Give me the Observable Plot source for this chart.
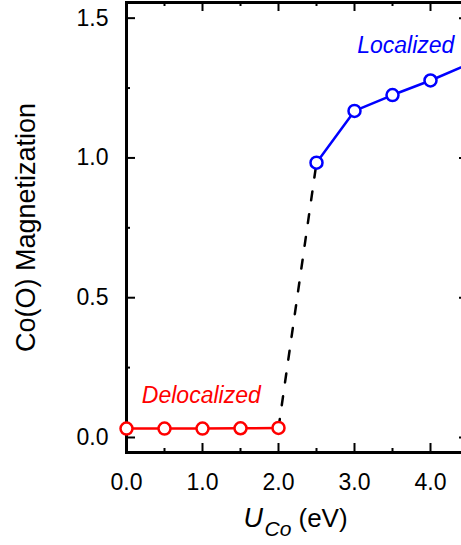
<!DOCTYPE html>
<html><head><meta charset="utf-8">
<script src="https://cdn.jsdelivr.net/npm/d3@7"></script>
<script src="https://cdn.jsdelivr.net/npm/@observablehq/plot@0.6"></script>
<style>
html,body{margin:0;padding:0;background:#fff;overflow:hidden;width:461px;height:545px}
#chart{width:461px;height:545px;overflow:hidden;position:relative}
#chart svg{max-width:none !important}
</style></head><body><div id="chart"></div>
<script>
// Delocalized branch (red)
const delocU = [0.0, 0.5, 1.0, 1.5, 2.0];
const delocM = [0.032, 0.032, 0.032, 0.033, 0.034];
// Localized branch (blue)
const locU = [2.5, 3.0, 3.5, 4.0, 4.5];
const locM = [0.983, 1.168, 1.225, 1.277, 1.335];
// Transition (dashed black)
const transU = [2.0, 2.5];
const transM = [0.034, 0.983];
// Ticks
const xMajor = [0, 1, 2, 3, 4];
const xMinor = [0.5, 1.5, 2.5, 3.5];
const yMajor = [0, 0.5, 1.0, 1.5];
const yMinor = [0.25, 0.75, 1.25];
// Annotations
const annText = ["Localized", "Delocalized"];
const annU = [3.675, 0.984];
const annM = [1.402, 0.150];
const annColor = ["#0000ff", "#ff0000"];

const deloc = delocU.map((u, i) => ({u, m: delocM[i]}));
const loc = locU.map((u, i) => ({u, m: locM[i]}));
const trans = transU.map((u, i) => ({u, m: transM[i]}));
const ann = annText.map((t, i) => ({t, u: annU[i], m: annM[i], c: annColor[i]}));

const font = "Liberation Sans, Arial, Helvetica, sans-serif";
const W = 470, H = 545, mL = 126, mR = 2, mT = 2, mB = 93;
const pw = W - mL - mR, ph = H - mT - mB;

const chart = Plot.plot({
  width: W, height: H,
  marginLeft: mL, marginRight: mR, marginTop: mT, marginBottom: mB,
  style: {fontFamily: font, background: "white", maxWidth: "none", overflow: "hidden"},
  x: {domain: [0, 4.5]},
  y: {domain: [-0.0537, 1.556]},
  marks: [
    Plot.axisX(xMajor, {tickSize: 0, tickPadding: 21, fontSize: 23, tickFormat: d3.format(".1f"), label: null, fill: "black"}),
    Plot.axisY(yMajor, {tickSize: 0, tickPadding: 18, fontSize: 23, tickFormat: d3.format(".1f"), label: null, fill: "black"}),
    // inward ticks: bottom & top
    Plot.tickX(xMajor, {x: d => d, insetTop: ph - 9, stroke: "black", strokeWidth: 2}),
    Plot.tickX(xMinor, {x: d => d, insetTop: ph - 4, stroke: "black", strokeWidth: 2}),
    Plot.tickX(xMajor, {x: d => d, insetBottom: ph - 9, stroke: "black", strokeWidth: 2}),
    Plot.tickX(xMinor, {x: d => d, insetBottom: ph - 4, stroke: "black", strokeWidth: 2}),
    // inward ticks: left & right
    Plot.tickY(yMajor, {y: d => d, insetRight: pw - 9, stroke: "black", strokeWidth: 2}),
    Plot.tickY(yMinor, {y: d => d, insetRight: pw - 4, stroke: "black", strokeWidth: 2}),
    Plot.tickY(yMajor, {y: d => d, insetLeft: pw - 9, stroke: "black", strokeWidth: 2}),
    Plot.tickY(yMinor, {y: d => d, insetLeft: pw - 4, stroke: "black", strokeWidth: 2}),
    Plot.frame({stroke: "black", strokeWidth: 3}),
    // data
    Plot.line(trans, {x: "u", y: "m", stroke: "black", strokeWidth: 2.5, strokeDasharray: "9,14"}),
    Plot.line(deloc, {x: "u", y: "m", stroke: "#ff0000", strokeWidth: 2.5}),
    Plot.line(loc, {x: "u", y: "m", stroke: "#0000ff", strokeWidth: 2.5}),
    Plot.dot(deloc, {x: "u", y: "m", r: 6, stroke: "#ff0000", strokeWidth: 2.5, fill: "white"}),
    Plot.dot(loc, {x: "u", y: "m", r: 6, stroke: "#0000ff", strokeWidth: 2.5, fill: "white"}),
    // annotations
    Plot.text(ann, {x: "u", y: "m", text: "t", fill: "c", fontSize: 23, fontStyle: "italic", textAnchor: "middle"}),
    // y axis label
    Plot.text(["Co(O) Magnetization"], {frameAnchor: "left", dx: -100, rotate: -90, fontSize: 27, fill: "black", textAnchor: "middle"}),
    // x axis label: U_Co (eV)
    Plot.text(["U"], {frameAnchor: "bottom", dx: -54, dy: 74, fontSize: 27, fontStyle: "italic", textAnchor: "start", fill: "black"}),
    Plot.text(["Co"], {frameAnchor: "bottom", dx: -33, dy: 83, fontSize: 21, fontStyle: "italic", textAnchor: "start", fill: "black"}),
    Plot.text(["(eV)"], {frameAnchor: "bottom", dx: 1, dy: 74, fontSize: 26, textAnchor: "start", fill: "black"})
  ]
});
document.getElementById("chart").appendChild(chart);
</script>
</body></html>
